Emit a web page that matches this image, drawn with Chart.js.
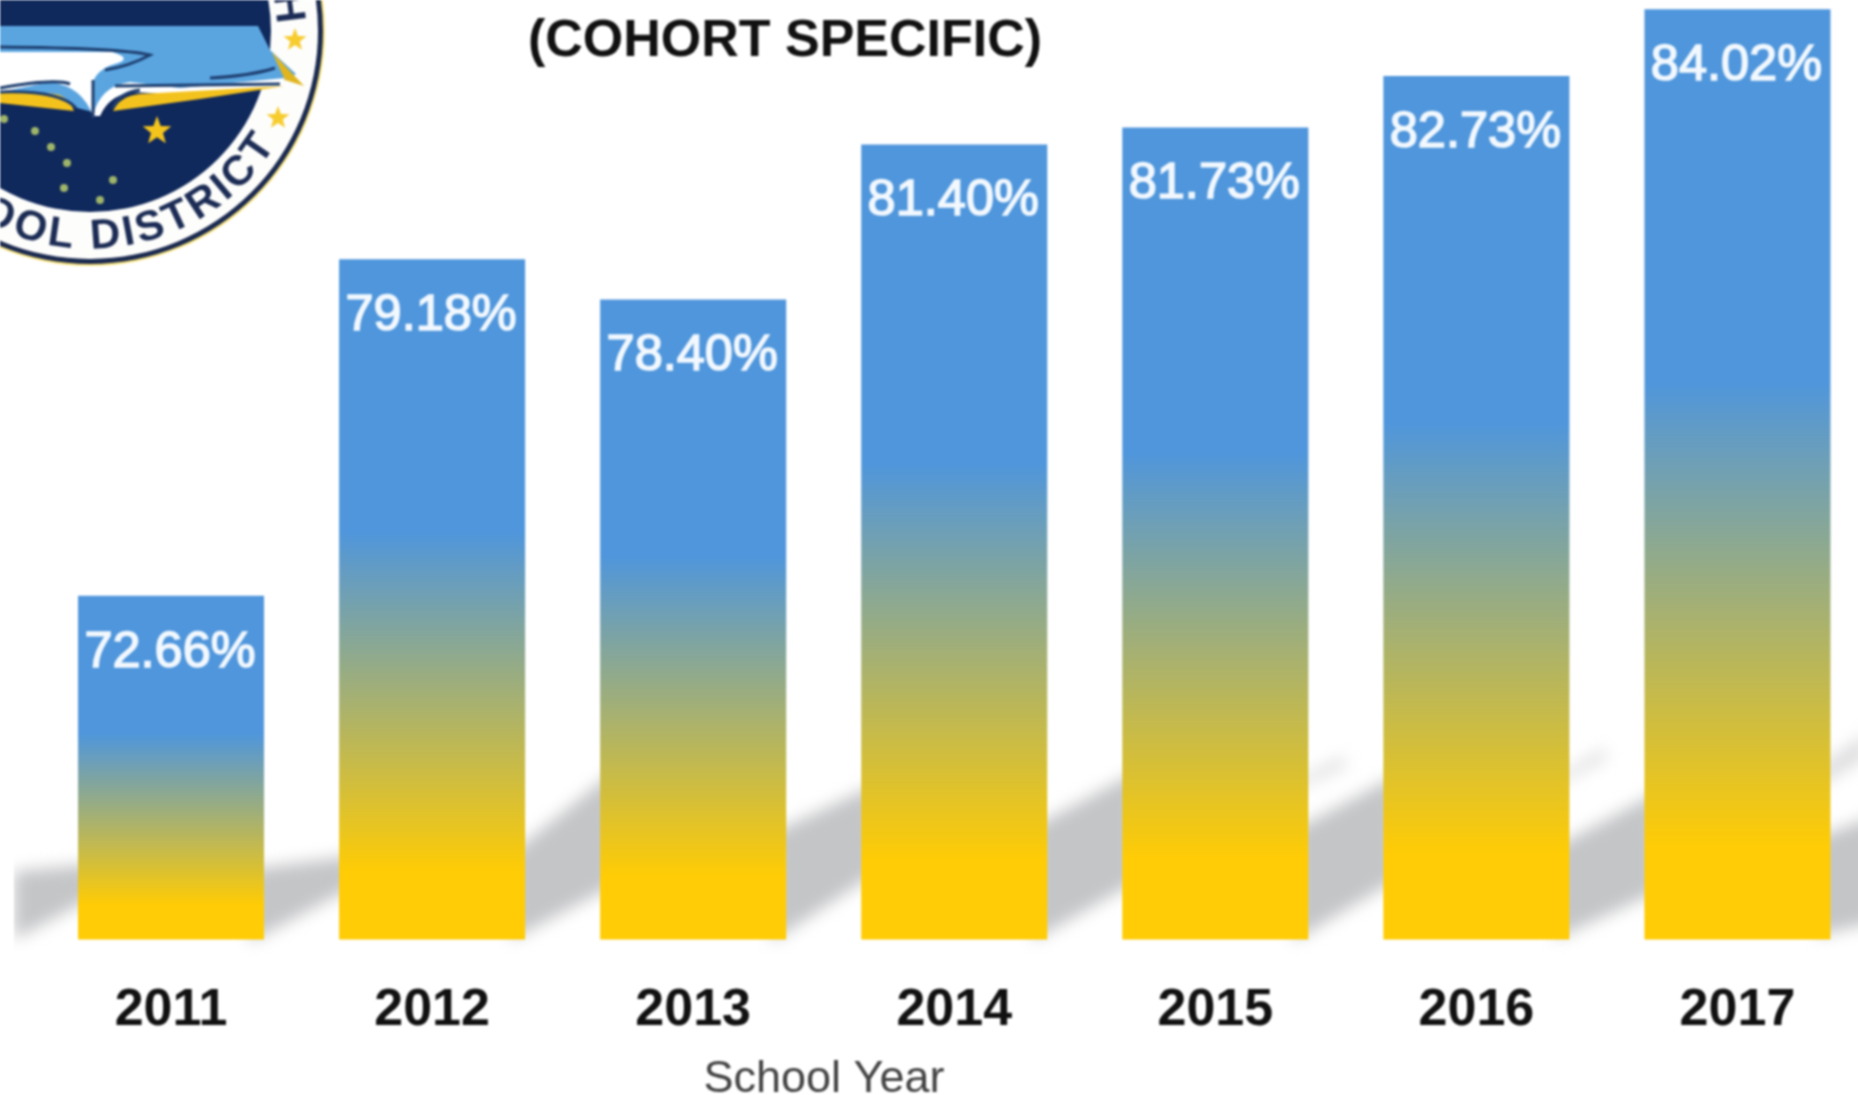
<!DOCTYPE html>
<html>
<head>
<meta charset="utf-8">
<title>Cohort specific</title>
<script src="https://cdn.jsdelivr.net/npm/chart.js@4"></script>
<style>
  html, body { margin: 0; padding: 0; background: #fff; overflow: hidden; }
  #wrap { width: 1858px; height: 1095px; overflow: hidden; }
  #chart { display: block; filter: blur(1px); }
</style>
</head>
<body>
<div id="wrap"><canvas id="chart" width="1868" height="1095"></canvas></div>
<script>
// Values
const schoolYears = ['2011', '2012', '2013', '2014', '2015', '2016', '2017'];
const cohortRates = [72.66, 79.18, 78.40, 81.40, 81.73, 82.73, 84.02];
const chartTitle = '(COHORT SPECIFIC)';
const xAxisTitle = 'School Year';
const FONT = '"Liberation Sans", Arial, sans-serif';

// Grey streaks behind the bars, one per gap: [top left, top right, bottom left, bottom right]
// given as pixels above the baseline. Index 0 is the gap left of the first bar.
const streaks = [
  [68, 74, 0, 34],
  [72, 82, 5, 45],
  [97, 157, 7, 47],
  [113, 148, 7, 57],
  [120, 160, 7, 50],
  [117, 157, 7, 52],
  [100, 140, 7, 42],
  [107, 133, 7, 23]
];
// Fainter upper pieces, same layout plus the gap index
const faintStreaks = [
  [5, 168, 184, 160, 172],
  [6, 172, 192, 164, 180],
  [7, 182, 206, 162, 182]
];

function star(ctx, x, y, r, color) {
  ctx.fillStyle = color;
  ctx.beginPath();
  for (let i = 0; i < 10; i++) {
    const a = -Math.PI / 2 + i * Math.PI / 5;
    const rad = i % 2 ? r * 0.42 : r;
    ctx.lineTo(x + Math.cos(a) * rad, y + Math.sin(a) * rad);
  }
  ctx.closePath();
  ctx.fill();
}

// District seal in the top left corner, cut off by the page edge
function drawLogo(ctx) {
  const cx = 90, cy = 31;
  ctx.save();
  ctx.fillStyle = '#f7e27a';
  ctx.beginPath(); ctx.arc(cx, cy, 235, 0, Math.PI * 2); ctx.fill();
  ctx.fillStyle = '#1b2a50';
  ctx.beginPath(); ctx.arc(cx, cy, 233, 0, Math.PI * 2); ctx.fill();
  ctx.fillStyle = '#fdfdfb';
  ctx.beginPath(); ctx.arc(cx, cy, 228, 0, Math.PI * 2); ctx.fill();
  ctx.fillStyle = '#10295c';
  ctx.beginPath(); ctx.arc(cx, cy, 181, 0, Math.PI * 2); ctx.fill();

  // sky band
  ctx.fillStyle = '#5aa5e0';
  ctx.beginPath();
  ctx.moveTo(0, 26); ctx.lineTo(258, 26); ctx.lineTo(270, 50); ctx.lineTo(296, 74);
  ctx.lineTo(285, 80); ctx.lineTo(180, 88); ctx.lineTo(120, 84); ctx.lineTo(93, 112); ctx.lineTo(0, 88);
  ctx.closePath(); ctx.fill();

  // white pages
  ctx.fillStyle = '#ffffff';
  ctx.beginPath();
  ctx.moveTo(0, 52); ctx.lineTo(112, 52); ctx.quadraticCurveTo(132, 58, 118, 63);
  ctx.quadraticCurveTo(98, 68, 93, 82); ctx.lineTo(93, 116);
  ctx.quadraticCurveTo(82, 86, 50, 82); ctx.lineTo(0, 92);
  ctx.closePath(); ctx.fill();
  ctx.beginPath();
  ctx.moveTo(93, 116); ctx.quadraticCurveTo(100, 86, 130, 82); ctx.lineTo(180, 88);
  ctx.lineTo(285, 78); ctx.lineTo(280, 87); ctx.lineTo(170, 94); ctx.lineTo(130, 92);
  ctx.quadraticCurveTo(108, 97, 100, 116);
  ctx.closePath(); ctx.fill();

  // yellow cover and tip
  ctx.fillStyle = '#f4c21c';
  ctx.beginPath();
  ctx.moveTo(0, 93); ctx.quadraticCurveTo(40, 91, 60, 95); ctx.quadraticCurveTo(70, 100, 74, 111);
  ctx.lineTo(0, 103); ctx.closePath(); ctx.fill();
  ctx.beginPath();
  ctx.moveTo(113, 111); ctx.quadraticCurveTo(120, 96, 140, 94); ctx.lineTo(285, 86);
  ctx.lineTo(200, 99); ctx.closePath(); ctx.fill();
  ctx.fillStyle = '#e0b51e';
  ctx.beginPath();
  ctx.moveTo(272, 52); ctx.lineTo(304, 86); ctx.lineTo(285, 80); ctx.closePath(); ctx.fill();

  // dark outlines
  ctx.strokeStyle = '#1e3f70';
  ctx.lineWidth = 3;
  ctx.beginPath();
  ctx.moveTo(0, 47); ctx.quadraticCurveTo(120, 48, 150, 55); ctx.quadraticCurveTo(130, 66, 105, 70);
  ctx.stroke();
  ctx.beginPath();
  ctx.moveTo(210, 78); ctx.quadraticCurveTo(250, 76, 275, 68);
  ctx.moveTo(0, 88); ctx.quadraticCurveTo(55, 78, 70, 84);
  ctx.moveTo(115, 86); ctx.lineTo(280, 84);
  ctx.moveTo(0, 92); ctx.quadraticCurveTo(60, 90, 76, 108);
  ctx.moveTo(93, 80); ctx.lineTo(93, 118);
  ctx.moveTo(113, 108); ctx.quadraticCurveTo(120, 92, 140, 90);
  ctx.stroke();

  // stars and dipper
  star(ctx, 157, 131, 15, '#f5c41c');
  star(ctx, 295, 40, 12, '#f7cc2e');
  star(ctx, 278, 118, 12, '#f7cc2e');
  ctx.fillStyle = '#9fb56a';
  [[4, 119], [35, 131], [51, 147], [67, 163], [64, 188], [113, 180], [100, 200]].forEach(p => {
    ctx.beginPath(); ctx.arc(p[0], p[1], 4, 0, Math.PI * 2); ctx.fill();
  });

  // ring text along the bottom, laid out right to left from the last T
  ctx.fillStyle = '#1c2c55';
  ctx.font = 'bold 42px ' + FONT;
  ctx.textAlign = 'center';
  ctx.textBaseline = 'middle';
  const ringText = 'SCHOOL DISTRICT';
  let angle = 35 * Math.PI / 180;
  for (let i = ringText.length - 1; i >= 0; i--) {
    const w = ctx.measureText(ringText[i]).width;
    const next = i > 0 ? ctx.measureText(ringText[i - 1]).width : 0;
    ctx.save();
    ctx.translate(cx + Math.cos(angle) * 206, cy + Math.sin(angle) * 206);
    ctx.rotate(angle - Math.PI / 2);
    ctx.fillText(ringText[i], 0, 0);
    ctx.restore();
    angle += ((w + next) / 2 + 2.4) / 206;
  }
  ctx.save();
  ctx.translate(287, 8);
  ctx.rotate(83 * Math.PI / 180);
  ctx.fillText('H', 0, 0);
  ctx.restore();
  ctx.restore();
}

// Blurred streaks go behind the bars
const streakPlugin = {
  id: 'streaks',
  beforeDatasetsDraw(chart) {
    const ctx = chart.ctx;
    const bars = chart.getDatasetMeta(0).data;
    const base = chart.chartArea.bottom;
    const half = bars[0].width / 2;
    const gapEdges = i => {
      const left = i === 0 ? 14 : bars[i - 1].x + half;
      const right = i === bars.length ? 1900 : bars[i].x - half;
      return [left, right];
    };
    const quad = (l, r, tl, tr, bl, br) => {
      ctx.beginPath();
      ctx.moveTo(l, base - tl); ctx.lineTo(r, base - tr);
      ctx.lineTo(r, base - br); ctx.lineTo(l, base - bl);
      ctx.closePath(); ctx.fill();
    };
    ctx.save();
    ctx.beginPath();
    ctx.rect(14, 0, 1900, 1095);
    ctx.clip();
    ctx.filter = 'blur(8px)';
    ctx.fillStyle = '#c4c5c7';
    streaks.forEach((s, i) => {
      const [l, r] = gapEdges(i);
      const over = i === bars.length ? 0 : 14;
      const slopeT = (s[1] - s[0]) / (r - l);
      const slopeB = (s[3] - s[2]) / (r - l);
      const lo = i === 0 ? 0 : 14;
      // run a little under the bars so the blur does not fade at their edges
      quad(l - lo, r + over, s[0] - slopeT * lo, s[1] + slopeT * over, s[2] - slopeB * lo, s[3] + slopeB * over);
    });
    ctx.fillStyle = 'rgba(198,199,201,0.6)';
    faintStreaks.forEach(f => {
      const [l, r] = gapEdges(f[0]);
      quad(l - 10, Math.min(r, l + 36), f[1] - 8, f[2], f[3] - 8, f[4]);
    });
    ctx.restore();
  }
};

// Value labels inside the bars
const barLabelPlugin = {
  id: 'barLabels',
  afterDatasetsDraw(chart) {
    const ctx = chart.ctx;
    ctx.save();
    ctx.font = '50.5px ' + FONT;
    ctx.textAlign = 'center';
    ctx.textBaseline = 'middle';
    ctx.fillStyle = '#f2f8fe';
    ctx.strokeStyle = '#f2f8fe';
    ctx.lineWidth = 1.6;
    chart.getDatasetMeta(0).data.forEach((bar, i) => {
      const label = cohortRates[i].toFixed(2) + '%';
      ctx.fillText(label, bar.x - 1, bar.y + 57);
      ctx.strokeText(label, bar.x - 1, bar.y + 57);
    });
    ctx.restore();
  }
};

// Heading and axis name sit off centre in the picture, so they are placed by hand
const headingPlugin = {
  id: 'headings',
  afterDraw(chart) {
    const ctx = chart.ctx;
    ctx.save();
    ctx.textAlign = 'center';
    ctx.textBaseline = 'middle';
    ctx.fillStyle = '#111';
    ctx.font = 'bold 52px ' + FONT;
    ctx.fillText(chartTitle, 785, 42);
    ctx.fillStyle = '#444';
    ctx.font = '45px ' + FONT;
    ctx.fillText(xAxisTitle, 824, 1080);
    ctx.restore();
    drawLogo(ctx);
  }
};

// Blue to yellow per bar, flat at both ends
function barGradient(context) {
  const chart = context.chart;
  if (!chart.chartArea || context.raw === undefined) return '#4f96dc';
  const y = chart.scales.y;
  const top = y.getPixelForValue(context.raw);
  const g = chart.ctx.createLinearGradient(0, top, 0, y.getPixelForValue(y.min));
  g.addColorStop(0, '#4f96dc');
  g.addColorStop(0.40, '#4f96dc');
  g.addColorStop(0.90, '#ffcc05');
  g.addColorStop(1, '#ffcc05');
  return g;
}

new Chart(document.getElementById('chart'), {
  type: 'bar',
  data: {
    labels: schoolYears,
    datasets: [{
      label: 'Cohort rate',
      data: cohortRates,
      backgroundColor: barGradient,
      borderWidth: 0,
      barPercentage: 0.7126,
      categoryPercentage: 1
    }]
  },
  options: {
    responsive: false,
    animation: false,
    layout: { padding: { left: 40.5, right: 0, top: 0, bottom: 0 } },
    plugins: { legend: { display: false }, tooltip: { enabled: false }, title: { display: false } },
    scales: {
      x: {
        grid: { display: false, drawTicks: false },
        border: { display: false },
        afterFit(scale) { scale.height = 155.5; },
        ticks: {
          color: '#111',
          padding: 39.5,
          maxRotation: 0,
          font: { family: FONT, size: 52, weight: 'bold' }
        }
      },
      y: { display: false, min: 66, max: 84.2 }
    }
  },
  plugins: [streakPlugin, barLabelPlugin, headingPlugin]
});
</script>
</body>
</html>
